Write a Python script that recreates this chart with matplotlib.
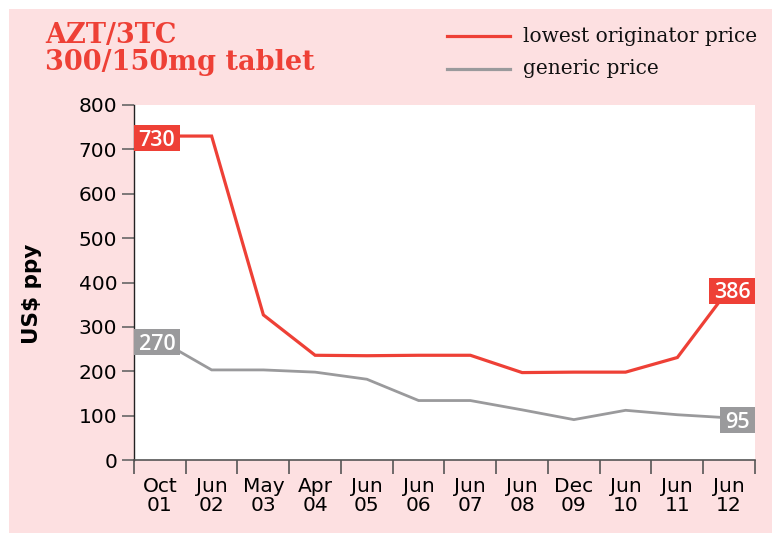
import matplotlib
matplotlib.use("Agg")
import matplotlib.pyplot as plt
from matplotlib.patches import Rectangle
from matplotlib.lines import Line2D
import numpy as np

categories = ["Oct\n01", "Jun\n02", "May\n03", "Apr\n04", "Jun\n05", "Jun\n06",
              "Jun\n07", "Jun\n08", "Dec\n09", "Jun\n10", "Jun\n11", "Jun\n12"]
originator = [730, 730, 327, 236, 235, 236, 236, 197, 198, 198, 231, 386]
generic = [270, 203, 203, 198, 182, 134, 134, 113, 91, 112, 102, 95]
y_ticks = [0, 100, 200, 300, 400, 500, 600, 700, 800]

RED = "#EE4036"
GRAY = "#9A9A9C"
PINK = "#FDE0E1"
TICKFONT = ["DejaVu Sans"]
SERIF = ["DejaVu Serif"]

W, H = 772, 533
fig = plt.figure(figsize=(W / 100, H / 100), dpi=100)
fig.patch.set_facecolor("white")
fig.patches.append(Rectangle((9 / W, 0), 1 - 9 / W, 1 - 9 / H, transform=fig.transFigure,
                             facecolor=PINK, edgecolor="none", zorder=-10))

ax = fig.add_axes([134 / W, (H - 460) / H, (755 - 134) / W, (460 - 105) / H])
ax.set_facecolor("white")
x = np.arange(len(categories))
ax.plot(x, originator, color=RED, lw=2.3, solid_joinstyle="miter", zorder=3)
ax.plot(x, generic, color=GRAY, lw=2.0, solid_joinstyle="miter", zorder=3)
ax.set_xlim(-0.5, len(categories) - 0.5)
ax.set_ylim(0, 800)

for sp in ["top", "right"]:
    ax.spines[sp].set_visible(False)
ax.spines["left"].set_color("#222222")
ax.spines["left"].set_linewidth(1.0)
ax.spines["bottom"].set_color("#555555")
ax.spines["bottom"].set_linewidth(1.2)

ax.set_yticks(y_ticks)
ax.set_yticklabels([str(v) for v in y_ticks], fontfamily=TICKFONT, fontsize=14.5)
ax.tick_params(axis="y", length=9, width=1.2, color="#666666", pad=3)

ax.set_xticks(np.arange(-0.5, len(categories), 1.0))
ax.set_xticklabels([])
ax.tick_params(axis="x", which="major", length=10, width=1.2, color="#555555", direction="out")
ax.set_xticks(x, minor=True)
ax.set_xticklabels(categories, minor=True, fontfamily=TICKFONT, fontsize=14.5, linespacing=1.05)
ax.tick_params(axis="x", which="minor", length=0, pad=12)

# end-value tags: boxes anchored to the axes edges, centred on the data value
TAG_FS = 15.5
def tag(xi, yi, txt, color, side):
    px, py = ax.transData.transform((xi, yi))
    bw = 13 + 11 * len(txt)
    bh = 26
    left_ax = ax.transAxes.transform((0, 0))[0]
    right_ax = ax.transAxes.transform((1, 0))[0]
    x0 = left_ax if side == "left" else right_ax - bw
    cy = py - 2
    fig.patches.append(Rectangle((x0 / W, (cy - bh / 2) / H), bw / W, bh / H,
                                 transform=fig.transFigure, facecolor=color,
                                 edgecolor="none", zorder=5))
    cap = 0.714 * TAG_FS * 100 / 72
    fig.text((x0 + bw / 2) / W, (cy - cap / 2) / H, txt, ha="center", va="baseline",
             color="white", fontsize=TAG_FS, fontfamily=["Open Sans", "DejaVu Sans"],
             fontweight="semibold", zorder=6)

tag(x[0], originator[0], str(originator[0]), RED, "left")
tag(x[-1], originator[-1], str(originator[-1]), RED, "right")
tag(x[0], generic[0], str(generic[0]), GRAY, "left")
tag(x[-1], generic[-1], str(generic[-1]), GRAY, "right")

fig.text(45 / W, 1 - 49 / H, "AZT/3TC\n300/150mg tablet", color=RED, fontsize=19.5,
         fontweight="bold", fontfamily=SERIF, va="center", ha="left", linespacing=1.02)

fig.text(32 / W, 1 - 294 / H, "US$ ppy", rotation=90, fontsize=15.5, fontweight="bold",
         fontfamily=["DejaVu Sans"], va="center", ha="center")

fig.lines.append(Line2D([447 / W, 510 / W], [1 - 36 / H, 1 - 36 / H], color=RED, lw=2.3,
                        transform=fig.transFigure))
fig.lines.append(Line2D([447 / W, 510 / W], [1 - 69 / H, 1 - 69 / H], color=GRAY, lw=2.3,
                        transform=fig.transFigure))
fig.text(523 / W, 1 - 36 / H, "lowest originator price", fontsize=14.5, fontfamily=SERIF,
         va="center", ha="left", color="#111111")
fig.text(523 / W, 1 - 69 / H, "generic price", fontsize=14.5, fontfamily=SERIF,
         va="center", ha="left", color="#111111")

fig.savefig("out.png", dpi=100, facecolor="white")
